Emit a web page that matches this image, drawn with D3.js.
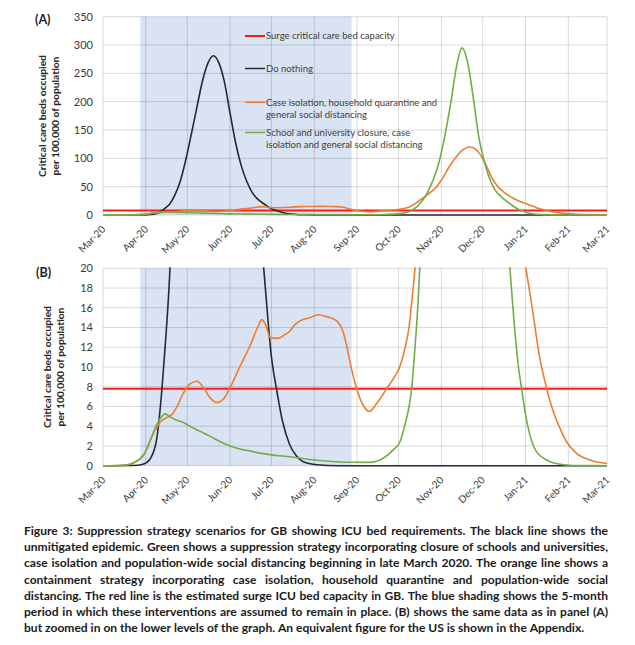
<!DOCTYPE html>
<html><head><meta charset="utf-8">
<script src="https://cdn.jsdelivr.net/npm/d3@7"></script>
<style>
body{margin:0;background:#fff}
svg{display:block}
text{font-family:Lato,"Open Sans",sans-serif}
</style>
</head><body>
<svg id="chart" width="635" height="645"></svg>
<script>
// ---------------- DATA ----------------
const monthLabels = ["Mar-20","Apr-20","May-20","Jun-20","Jul-20","Aug-20","Sep-20","Oct-20","Nov-20","Dec-20","Jan-21","Feb-21","Mar-21"];
const monthDates  = ["2020-03-01","2020-04-01","2020-05-01","2020-06-01","2020-07-01","2020-08-01","2020-09-01","2020-10-01","2020-11-01","2020-12-01","2021-01-01","2021-02-01","2021-03-01"];
const topTicks = [0,50,100,150,200,250,300,350];
const bottomTicks = [0,2,4,6,8,10,12,14,16,18,20];
const surgeCapacity = 7.8;
const interventionPeriod = ["2020-03-28","2020-08-28"];
const seriesNames = ["Surge critical care bed capacity","Do nothing","Case isolation, household quarantine and general social distancing","School and university closure, case isolation and general social distancing"];
const seriesColors = ["#ff1a1a","#222a36","#ed7d31","#70ad47"];
const legendLines = [["Surge critical care bed capacity"],["Do nothing"],["Case isolation, household quarantine and","general social distancing"],["School and university closure, case","isolation and general social distancing"]];

// days since 1 Mar 2020
const doNothingDay   = [0,25,30,35,39,42.7,45.5,48.5,52,56,60,64,68,72,76,80,84,88,92,96,100,104,108,112,117,122,126,130,135,140,145,155,170,365];
const doNothingValue = [0,0.05,0.2,0.9,2.8,7.8,13,20,35,60,98,143,190,236,268,281,268,234,180,128,88,60,40,28,19,11,7.5,4.5,2.2,1,0.4,0.1,0,0];

const caseIsolationDay   = [0,12,16,19.5,23,26.8,29,32.6,35.5,39,41.3,46.3,50,53.6,58,63,68,72.4,77.5,82.5,87.6,92,99,106,112,115,118,121,126,132,135,139,143,150,156,162,169,173.8,176.7,178.9,183.7,188.5,192.8,198.2,205.4,210.2,214.6,218.7,221.8,224.3,226,230,235,241.6,246,250,255,260,265.7,270,274,278,282,286,290,295,300,304,308,311.6,315.2,321.3,326.1,330.9,335.8,343,352.6,365];
const caseIsolationValue = [0,0.02,0.06,0.15,0.35,0.7,1.0,2.0,3.0,3.9,4.4,4.9,5.2,6.0,7.3,8.3,8.55,8.0,6.9,6.4,6.8,7.9,10,12,14,14.8,14.2,13.0,12.9,13.3,13.6,14.3,14.7,15.0,15.3,15.1,14.7,13.6,12,10.5,7.8,6.1,5.5,6.3,7.8,8.8,9.9,11.9,14.2,17.6,20,27,36,50,65,82,100,114,120,116,104,85,64,50,41,32.5,26,22,18.5,15.3,11.8,7.8,5.5,3.8,2.4,1.25,0.58,0.23];

const schoolClosureDay   = [0,12,16,19.5,23,26.8,29,32.6,35.5,39,42.7,45,48.5,53.6,58,63,70,77.5,82.5,92,99,106,115,122,132,138,146,155,164,179,193.3,203,210.2,215,218.6,221.8,223.5,225.9,228.3,229.5,233,237,243,248,252,256,260,264,268,272,276,280,284,288,292,294.7,298.3,300.7,303.2,305.6,309.2,314,321.3,331,340.5,352,365];
const schoolClosureValue = [0,0.02,0.06,0.15,0.35,0.7,1.0,2.0,3.0,4.2,5.0,5.25,4.95,4.6,4.4,4.0,3.5,3.0,2.6,2.0,1.7,1.5,1.25,1.1,0.95,0.85,0.7,0.55,0.45,0.35,0.34,0.75,1.6,2.4,4.1,6.1,7.8,11.9,16.9,20.3,31,50,90,145,200,262,295,270,210,140,96,64,44,33,25,20,13.6,10.2,7.8,5.5,3.1,1.4,0.58,0.14,0.02,0.01,0];

const captionLines = [
 "Figure 3: Suppression strategy scenarios for GB showing ICU bed requirements. The black line shows the",
 "unmitigated epidemic. Green shows a suppression strategy incorporating closure of schools and universities,",
 "case isolation and population-wide social distancing beginning in late March 2020. The orange line shows a",
 "containment strategy incorporating case isolation, household quarantine and population-wide social",
 "distancing. The red line is the estimated surge ICU bed capacity in GB.  The blue shading shows the 5-month",
 "period in which these interventions are assumed to remain in place. (B) shows the same data as in panel (A)",
 "but zoomed in on the lower levels of the graph. An equivalent figure for the US is shown in the Appendix."
];

// ---------------- DRAWING ----------------
const svg = d3.select("#chart");
svg.append("rect").attr("width",635).attr("height",645).attr("fill","#fff");
const parse = d3.utcParse("%Y-%m-%d");
const base = Date.UTC(2020,2,1);
const toDate = d => new Date(base + d*86400000);
const x = d3.scaleUtc().domain([parse(monthDates[0]), parse(monthDates[monthDates.length-1])]).range([103,607]);

function fitSize(text, weight, target){
  const t = svg.append("text").attr("font-size",20).attr("font-weight",weight).text(text);
  const w = t.node().getComputedTextLength(); t.remove();
  return 20*target/w;
}

const series = [
  {days:null, values:null, color:seriesColors[0], width:2},
  {days:doNothingDay, values:doNothingValue, color:seriesColors[1], width:1.6},
  {days:caseIsolationDay, values:caseIsolationValue, color:seriesColors[2], width:1.6},
  {days:schoolClosureDay, values:schoolClosureValue, color:seriesColors[3], width:1.6}
];

const titleSize = fitSize("Critical care beds occupied","bold",122);

function panel(id, yTopPx, yBotPx, ticks, label, labelPos, titleX, titleY){
  const y = d3.scaleLinear().domain([0, ticks[ticks.length-1]]).range([yBotPx, yTopPx]);
  const g = svg.append("g");
  const [x0,x1] = x.range();
  // shading
  g.append("rect").attr("x",x(parse(interventionPeriod[0]))).attr("y",yTopPx)
    .attr("width",x(parse(interventionPeriod[1]))-x(parse(interventionPeriod[0])))
    .attr("height",yBotPx-yTopPx).attr("fill","#dae3f3");
  // gridlines
  g.append("g").selectAll("line").data(ticks).join("line")
    .attr("x1",x0).attr("x2",x1).attr("y1",d=>y(d)).attr("y2",d=>y(d))
    .attr("stroke","rgba(0,0,0,0.15)").attr("stroke-width",1);
  g.append("g").selectAll("line").data(monthDates).join("line")
    .attr("x1",d=>x(parse(d))).attr("x2",d=>x(parse(d))).attr("y1",yTopPx).attr("y2",yBotPx)
    .attr("stroke","rgba(0,0,0,0.15)").attr("stroke-width",1);
  // y tick labels
  g.append("g").selectAll("text").data(ticks).join("text")
    .attr("x",93).attr("y",d=>y(d)).attr("dy","0.35em").attr("text-anchor","end")
    .attr("font-size",11).attr("fill","#3a3a3a").text(d=>d);
  // x tick labels
  g.append("g").selectAll("text").data(monthDates).join("text")
    .attr("transform",(d)=>`translate(${x(parse(d))+3},${yBotPx+15}) rotate(-45)`)
    .attr("text-anchor","end").attr("font-size",10).attr("fill","#3a3a3a")
    .text((d,i)=>monthLabels[i]);
  // clip
  const clipId = "clip"+id;
  svg.append("clipPath").attr("id",clipId).append("rect")
    .attr("x",x0).attr("y",yTopPx-1).attr("width",x1-x0+1).attr("height",yBotPx-yTopPx+3);
  const lg = g.append("g").attr("clip-path",`url(#${clipId})`);
  // capacity line
  lg.append("line").attr("x1",x0).attr("x2",x1).attr("y1",y(surgeCapacity)).attr("y2",y(surgeCapacity))
    .attr("stroke",series[0].color).attr("stroke-width",series[0].width);
  const line = d3.line().x(d=>x(toDate(d[0]))).y(d=>y(d[1])).curve(d3.curveMonotoneX);
  series.slice(1).forEach(s=>{
    const pts = s.days.map((d,i)=>[d, s.values[i]]);
    lg.append("path").attr("d",line(pts)).attr("fill","none")
      .attr("stroke",s.color).attr("stroke-width",s.width).attr("stroke-linejoin","round");
  });
  // panel label
  g.append("text").attr("x",labelPos[0]).attr("y",labelPos[1]).attr("font-size",12.5)
    .attr("font-weight","bold").attr("fill","#222").text(label);
  // y title
  ["Critical care beds occupied","per 100,000 of population"].forEach((t,i)=>{
    g.append("text").attr("transform",`translate(${titleX[i]},${titleY}) rotate(-90)`)
      .attr("text-anchor","middle").attr("dy","0.35em").attr("font-size",titleSize)
      .attr("font-weight","bold").attr("fill","#262626").text(t);
  });
  return y;
}

panel("A", 16.7, 215, topTicks, "(A)", [35,24], [42,55], 116);
panel("B", 268.3, 465.7, bottomTicks, "(B)", [36,277], [47,60], 367);

// legend (panel A)
const legSize = fitSize("Surge critical care bed capacity","normal",129);
const legY = [36, 68.5, 102.3, 132.5];
const leg = svg.append("g");
legendLines.forEach((lines,i)=>{
  leg.append("line").attr("x1",245).attr("x2",265).attr("y1",legY[i]).attr("y2",legY[i])
    .attr("stroke",seriesColors[i]).attr("stroke-width",i===0?2:1.5);
  lines.forEach((t,j)=>{
    leg.append("text").attr("x",266).attr("y",legY[i]+j*12.3).attr("dy","0.35em")
      .attr("font-size",legSize).attr("fill","#404040").text(t);
  });
});

// caption, justified
const capSize = fitSize(captionLines[6],"bold",559);
const capG = svg.append("g");
const capX0 = 24, capX1 = 608;
captionLines.forEach((line,i)=>{
  const yb = 535 + i*16.2;
  const words = line.split(/\s+/);
  const widths = words.map(w=>{
    const t = capG.append("text").attr("font-size",capSize).attr("font-weight","bold").text(w);
    const ww = t.node().getComputedTextLength(); t.remove(); return ww;
  });
  const sp = (()=>{const t=capG.append("text").attr("font-size",capSize).attr("font-weight","bold").text("a a");
    const a=t.node().getComputedTextLength(); t.text("aa"); const b=t.node().getComputedTextLength(); t.remove(); return a-b;})();
  const total = d3.sum(widths);
  const gap = (i < captionLines.length-1) ? (capX1-capX0-total)/(words.length-1) : sp;
  let cx = capX0;
  words.forEach((w,k)=>{
    capG.append("text").attr("x",cx).attr("y",yb).attr("font-size",capSize)
      .attr("font-weight","bold").attr("fill","#1a1a1a").text(w);
    cx += widths[k] + gap;
  });
});
</script>
</body></html>
